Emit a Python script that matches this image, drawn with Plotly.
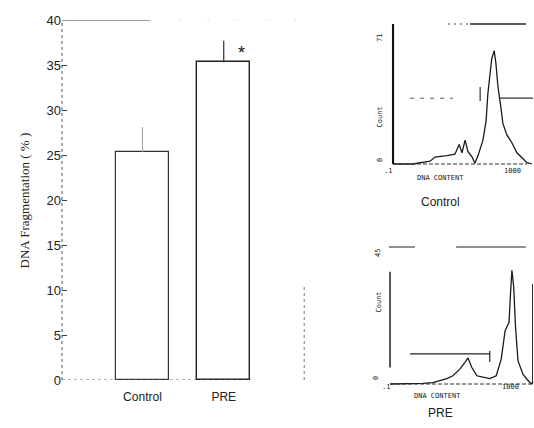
import plotly.graph_objects as go

W, H = 534, 428

# ---- main bar chart data ----
groups = ["Control", "PRE"]
fragmentation = [25.3, 35.3]
frag_err = [2.8, 2.4]
y_ticks = [0, 5, 10, 15, 20, 25, 30, 35, 40]

# ---- flow-cytometry inset data (log10 DNA content, % of axis height) ----
ctrl_logdna = [-1.0, -0.43, 0.06, 0.2, 0.54, 0.77, 0.89, 0.97, 1.06, 1.14, 1.26, 1.34, 1.43, 1.57, 1.66, 1.71, 1.82, 1.89, 1.94, 2.0, 2.08, 2.14, 2.25, 2.4, 2.54, 2.69, 2.83, 2.97]
ctrl_count = [0, 0, 2, 5, 6, 7, 14, 8, 17, 9, 5, 0.5, 6, 17, 31, 50, 75, 81, 72, 55, 41, 29, 21, 15, 8, 4, 1, 0]
pre_logdna = [-1.0, -0.72, -0.36, -0.08, 0.2, 0.59, 0.76, 0.96, 1.1, 1.18, 1.29, 1.43, 1.6, 1.79, 1.97, 2.11, 2.22, 2.33, 2.36, 2.41, 2.46, 2.51, 2.58, 2.72, 2.88, 2.96, 3.0]
pre_count = [0, 0, 0.5, 0.5, 1, 4, 6, 11, 16, 19, 12, 6, 5, 4, 6, 18, 39, 45, 61, 83, 71, 42, 17, 7, 2, 0, 2]


def px(x):
    return x / W


def py(y):
    return 1 - y / H


fig = go.Figure()

# main bars
fig.add_trace(go.Bar(
    x=[1], y=[fragmentation[0]], width=0.65,
    marker=dict(color="white", line=dict(color="#333333", width=1.2)),
    error_y=dict(type="data", array=[frag_err[0]], arrayminus=[0], symmetric=False,
                 color="#a0a0a0", thickness=1, width=0),
    xaxis="x", yaxis="y", showlegend=False))
fig.add_trace(go.Bar(
    x=[2], y=[fragmentation[1]], width=0.65,
    marker=dict(color="white", line=dict(color="#222222", width=1.4)),
    error_y=dict(type="data", array=[frag_err[1]], arrayminus=[0], symmetric=False,
                 color="#333333", thickness=1.2, width=0),
    xaxis="x", yaxis="y", showlegend=False))

# inset histograms
fig.add_trace(go.Scatter(x=ctrl_logdna, y=ctrl_count, mode="lines",
                         line=dict(color="#1a1a1a", width=1.3),
                         xaxis="x2", yaxis="y2", showlegend=False))
fig.add_trace(go.Scatter(x=pre_logdna, y=pre_count, mode="lines",
                         line=dict(color="#1a1a1a", width=1.3),
                         xaxis="x3", yaxis="y3", showlegend=False))

inset_axis = dict(showgrid=False, zeroline=False, showticklabels=False, ticks="", automargin=False)

fig.update_layout(
    width=W, height=H,
    margin=dict(l=0, r=0, t=0, b=0, autoexpand=False),
    paper_bgcolor="white", plot_bgcolor="white",
    font=dict(family="Liberation Sans, Arial, sans-serif", color="#222222"),
    bargap=0,
    xaxis=dict(domain=[px(62), px(305)], range=[0.01, 3.0], automargin=False,
               tickvals=[1, 2], ticktext=groups, ticks="", showline=False, ticklabelstandoff=8,
               showgrid=False, zeroline=False, tickfont=dict(size=12, color="#222")),
    yaxis=dict(domain=[py(380), py(20)], range=[0, 40], tickvals=y_ticks, automargin=False,
               ticks="inside", ticklen=5, tickcolor="#444", showline=False,
               showgrid=False, zeroline=False, tickfont=dict(size=13, color="#222")),
    xaxis2=dict(domain=[px(391.6), px(533)], range=[-1.04, 3], anchor="y2", showline=False, **inset_axis),
    yaxis2=dict(domain=[py(166), py(22)], range=[-1.43, 101.43], anchor="x2",
                showline=False, **inset_axis),
    xaxis3=dict(domain=[px(388.6), px(533)], range=[-1.04, 3], anchor="y3", showline=False, **inset_axis),
    yaxis3=dict(domain=[py(386), py(245)], range=[-1.46, 101.46], anchor="x3",
                showline=False, **inset_axis),
)

shapes = []
# main y-axis (broken scan line)
shapes.append(dict(type="line", xref="paper", yref="y", x0=px(62), x1=px(62), y0=0, y1=40,
                   line=dict(color="#555", width=1, dash="dot")))
# top frame line at 40
shapes.append(dict(type="line", xref="x", yref="y", x0=0.01, x1=1.09, y0=40, y1=40,
                   line=dict(color="#333", width=1.2)))
shapes.append(dict(type="line", xref="x", yref="y", x0=1.09, x1=3.0, y0=40, y1=40,
                   line=dict(color="#999", width=1, dash="1px,28px")))
# bottom baseline at 0
shapes.append(dict(type="line", xref="x", yref="y", x0=0.01, x1=2.35, y0=0, y1=0,
                   line=dict(color="#666", width=1, dash="dot")))
# stray vertical scan mark
shapes.append(dict(type="line", xref="x", yref="y", x0=2.99, x1=2.99, y0=0, y1=10.5,
                   line=dict(color="#777", width=1, dash="dot")))
# Control inset: y axis, baseline, gates
shapes.append(dict(type="line", xref="x2", yref="y2", x0=-1, x1=-1, y0=0, y1=100,
                   line=dict(color="#111", width=2.2)))
shapes.append(dict(type="line", xref="x2", yref="y2", x0=-1, x1=2.83, y0=0, y1=0,
                   line=dict(color="#333", width=1, dash="4px,2px")))
shapes.append(dict(type="line", xref="x2", yref="y2", x0=0.57, x1=1.2, y0=100, y1=100,
                   line=dict(color="#444", width=1, dash="2px,4px")))
shapes.append(dict(type="line", xref="x2", yref="y2", x0=1.2, x1=2.8, y0=100, y1=100,
                   line=dict(color="#222", width=1.3)))
shapes.append(dict(type="line", xref="x2", yref="y2", x0=-0.51, x1=0.71, y0=47, y1=47,
                   line=dict(color="#555", width=1, dash="4px,6px")))
shapes.append(dict(type="line", xref="x2", yref="y2", x0=2.06, x1=3.0, y0=47, y1=47,
                   line=dict(color="#333", width=1.2)))
shapes.append(dict(type="line", xref="x2", yref="y2", x0=1.49, x1=1.49, y0=45, y1=55,
                   line=dict(color="#333", width=1.2)))
# PRE inset: y axis, baseline, gates
shapes.append(dict(type="line", xref="x3", yref="y3", x0=-1, x1=-1, y0=12, y1=82,
                   line=dict(color="#222", width=1.5)))
shapes.append(dict(type="line", xref="x3", yref="y3", x0=-1, x1=3, y0=0, y1=0,
                   line=dict(color="#333", width=1, dash="4px,2px")))
shapes.append(dict(type="line", xref="x3", yref="y3", x0=-1.03, x1=-0.3, y0=100, y1=100,
                   line=dict(color="#222", width=1.2)))
shapes.append(dict(type="line", xref="x3", yref="y3", x0=0.85, x1=2.8, y0=100, y1=100,
                   line=dict(color="#222", width=1.2)))
shapes.append(dict(type="line", xref="x3", yref="y3", x0=-0.44, x1=1.79, y0=22, y1=22,
                   line=dict(color="#222", width=1.2)))
shapes.append(dict(type="line", xref="x3", yref="y3", x0=1.79, x1=1.79, y0=16, y1=24,
                   line=dict(color="#222", width=1.2)))
shapes.append(dict(type="line", xref="x3", yref="y3", x0=2.99, x1=2.99, y0=0, y1=73,
                   line=dict(color="#222", width=1.2)))
fig.update_layout(shapes=shapes)

ann = []
ann.append(dict(text="DNA Fragmentation ( % )", x=px(14), y=py(201), xref="paper", yref="paper",
                showarrow=False, textangle=-90,
                font=dict(family="Liberation Serif, Times New Roman, serif", size=13, color="#222")))
ann.append(dict(text="*", x=2.22, y=36.3, xref="x", yref="y", showarrow=False,
                font=dict(size=18, color="#111")))
small = dict(size=7, color="#222", family="DejaVu Sans Mono, monospace")
ann += [
    dict(text=".1", x=px(394), y=py(171), xref="paper", yref="paper", showarrow=False, font=small),
    dict(text="1000", x=px(523), y=py(171), xref="paper", yref="paper", showarrow=False, font=small),
    dict(text="DNA CONTENT", x=px(466), y=py(178), xref="paper", yref="paper", showarrow=False, font=small),
    dict(text="Count", x=px(386), y=py(105), xref="paper", yref="paper", showarrow=False, textangle=-90, font=small),
    dict(text="71", x=px(386), y=py(32), xref="paper", yref="paper", showarrow=False, textangle=-90, font=small),
    dict(text="0", x=px(386), y=py(160), xref="paper", yref="paper", showarrow=False, textangle=-90, font=small),
    dict(text="Control", x=px(462), y=py(202), xref="paper", yref="paper", showarrow=False,
         font=dict(size=12, color="#222")),
    dict(text="PRE", x=px(455), y=py(422), xref="paper", yref="paper", showarrow=False,
         font=dict(size=12, color="#222")),
    dict(text=".1", x=px(392), y=py(393), xref="paper", yref="paper", showarrow=False, font=small),
    dict(text="1000", x=px(521), y=py(393), xref="paper", yref="paper", showarrow=False, font=small),
    dict(text="DNA CONTENT", x=px(463), y=py(402), xref="paper", yref="paper", showarrow=False, font=small),
    dict(text="Count", x=px(384), y=py(315), xref="paper", yref="paper", showarrow=False, textangle=-90, font=small),
    dict(text="45", x=px(384), y=py(253), xref="paper", yref="paper", showarrow=False, textangle=-90, font=small),
    dict(text="0", x=px(382), y=py(382), xref="paper", yref="paper", showarrow=False, textangle=-90, font=small),
]
fig.update_layout(annotations=ann)

fig.write_html("out.html", config={"displayModeBar": False},
               post_script="document.body.style.margin='0';")
